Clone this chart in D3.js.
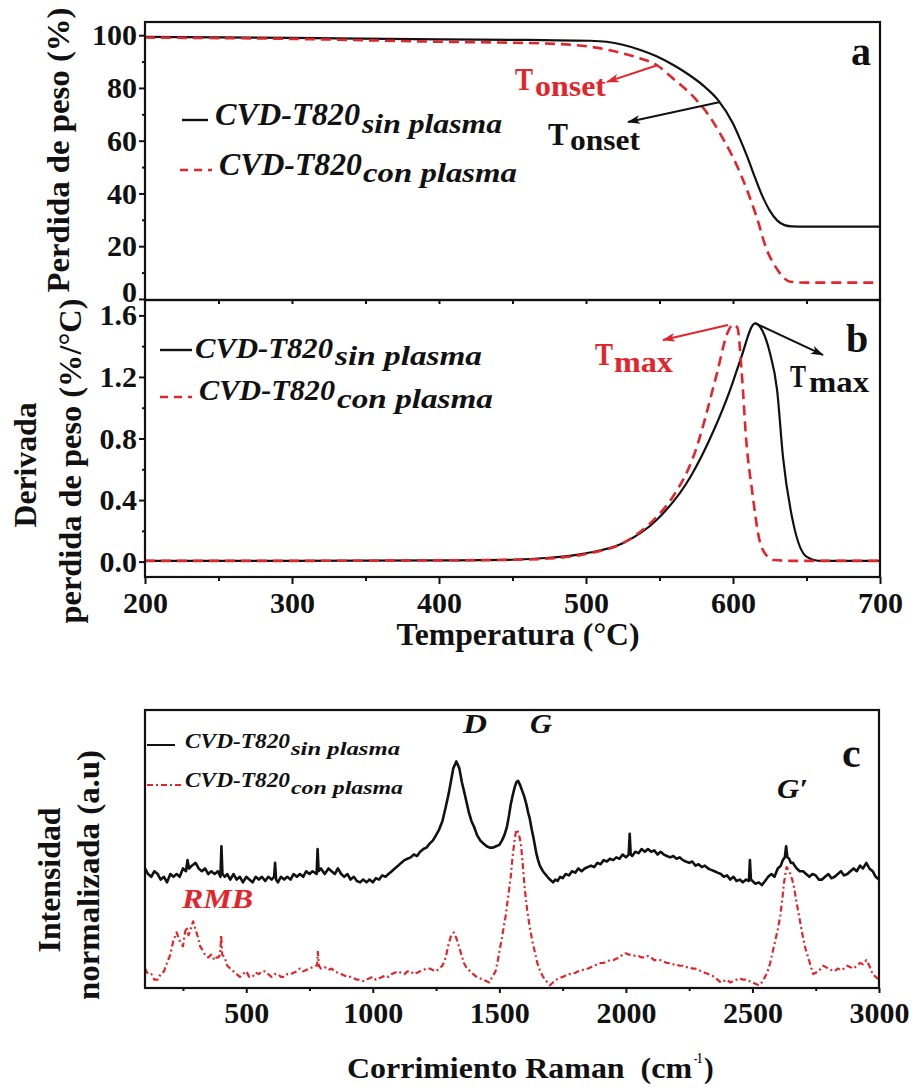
<!DOCTYPE html>
<html><head><meta charset="utf-8">
<script src="https://cdn.jsdelivr.net/npm/d3@7"></script>
<style>
html,body{margin:0;padding:0;background:#fff;}
svg text{white-space:pre;font-family:"Liberation Serif","Times New Roman",Times,serif;font-weight:bold;}
</style></head><body>
<svg id="chart" width="915" height="1089"></svg>
<script>
// ---------------- DATA ----------------
// Panel a: TGA weight (%) vs temperature (°C)
const tgaSinT = [200, 300, 401, 460, 503, 514, 537, 548, 560, 570, 580, 590, 600, 605, 610, 615, 620, 625, 630, 635, 640, 650, 700];
const tgaSinW = [99.4, 99.0, 98.4, 98.2, 97.9, 97.5, 94.4, 92.0, 88.5, 85.0, 80.8, 75.3, 66.5, 60.3, 53.5, 46.0, 39.0, 33.5, 29.8, 28.0, 27.5, 27.4, 27.4];
const tgaConT = [200, 300, 401, 469, 503, 525, 537, 548, 559, 573, 582, 593, 605, 616, 623, 628, 632, 639, 650, 700];
const tgaConW = [99.1, 98.6, 97.5, 96.9, 95.6, 93.1, 91.2, 88.7, 83.7, 76.7, 70.8, 61.0, 47.6, 31.2, 18.6, 13.0, 9.7, 6.5, 6.2, 6.2];
// Panel b: DTG (%/°C)
const dtgSinT = [200, 300, 400, 450, 475, 500, 525, 548, 571, 587, 598, 605, 615, 620, 625, 630, 634, 641, 650, 659, 700];
const dtgSinV = [0.005, 0.005, 0.008, 0.012, 0.025, 0.054, 0.119, 0.27, 0.55, 0.855, 1.115, 1.31, 1.548, 1.50, 1.36, 1.115, 0.68, 0.25, 0.032, 0.005, 0.005];
const dtgConT = [200, 300, 400, 450, 475, 500, 525, 548, 559, 573, 589, 596, 600, 603, 606, 609, 613, 618, 622, 628, 640, 700];
const dtgConV = [0.005, 0.005, 0.008, 0.012, 0.02, 0.05, 0.12, 0.29, 0.42, 0.68, 1.22, 1.48, 1.54, 1.52, 1.22, 0.79, 0.46, 0.14, 0.05, 0.01, 0.005, 0.005];
// Panel c: Raman spectra [shift cm-1, normalized intensity]
const ramanSin = [[100,0.43],[112,0.41],[125,0.40],[137,0.42],[150,0.41],[162,0.39],[175,0.40],[187,0.38],[200,0.41],[212,0.40],[225,0.41],[237,0.40],[250,0.43],[262,0.42],[268,0.46],[274,0.43],[285,0.44],[300,0.45],[312,0.43],[325,0.42],[337,0.43],[350,0.41],[362,0.42],[375,0.41],[388,0.42],[398,0.40],[402,0.51],[406,0.41],[415,0.40],[425,0.41],[437,0.39],[450,0.41],[462,0.39],[475,0.40],[487,0.38],[500,0.40],[512,0.39],[525,0.38],[537,0.40],[550,0.39],[562,0.40],[575,0.385],[587,0.40],[600,0.39],[610,0.40],[614,0.45],[618,0.39],[625,0.38],[637,0.40],[650,0.39],[662,0.40],[675,0.39],[687,0.41],[700,0.40],[712,0.41],[725,0.40],[737,0.42],[750,0.41],[762,0.42],[778,0.41],[782,0.50],[786,0.42],[795,0.43],[810,0.41],[825,0.43],[837,0.42],[850,0.41],[862,0.43],[875,0.41],[887,0.40],[900,0.41],[912,0.39],[925,0.40],[937,0.385],[950,0.38],[962,0.39],[975,0.38],[987,0.39],[1000,0.38],[1012,0.395],[1025,0.39],[1037,0.405],[1050,0.40],[1062,0.41],[1075,0.42],[1087,0.43],[1100,0.44],[1112,0.45],[1125,0.46],[1137,0.465],[1150,0.47],[1162,0.48],[1175,0.475],[1187,0.49],[1200,0.50],[1212,0.505],[1225,0.52],[1237,0.53],[1250,0.55],[1262,0.57],[1275,0.60],[1288,0.65],[1300,0.70],[1310,0.75],[1318,0.79],[1330,0.815],[1342,0.79],[1352,0.74],[1360,0.71],[1370,0.67],[1380,0.63],[1390,0.60],[1400,0.58],[1412,0.55],[1425,0.53],[1437,0.52],[1450,0.51],[1462,0.505],[1475,0.505],[1487,0.51],[1500,0.515],[1510,0.53],[1520,0.55],[1530,0.58],[1538,0.62],[1545,0.66],[1552,0.69],[1560,0.72],[1567,0.74],[1574,0.745],[1582,0.73],[1590,0.71],[1598,0.69],[1607,0.66],[1614,0.63],[1620,0.61],[1628,0.57],[1635,0.54],[1641,0.51],[1646,0.485],[1653,0.46],[1660,0.44],[1666,0.43],[1672,0.42],[1681,0.41],[1690,0.40],[1700,0.39],[1712,0.38],[1721,0.39],[1730,0.385],[1740,0.40],[1750,0.395],[1762,0.41],[1775,0.405],[1787,0.42],[1800,0.415],[1812,0.43],[1825,0.42],[1837,0.43],[1850,0.435],[1862,0.44],[1875,0.435],[1887,0.45],[1900,0.445],[1912,0.46],[1925,0.455],[1937,0.465],[1950,0.46],[1962,0.47],[1975,0.465],[1987,0.48],[2000,0.47],[2011,0.48],[2015,0.555],[2019,0.48],[2025,0.475],[2037,0.49],[2050,0.485],[2062,0.50],[2075,0.49],[2087,0.50],[2100,0.49],[2112,0.495],[2125,0.48],[2137,0.49],[2150,0.48],[2162,0.475],[2175,0.47],[2187,0.475],[2200,0.465],[2212,0.47],[2225,0.46],[2237,0.455],[2250,0.45],[2262,0.455],[2275,0.44],[2287,0.445],[2300,0.435],[2312,0.44],[2325,0.43],[2337,0.425],[2350,0.42],[2362,0.415],[2375,0.41],[2387,0.40],[2400,0.405],[2412,0.39],[2425,0.40],[2437,0.385],[2450,0.39],[2462,0.38],[2475,0.39],[2486,0.385],[2490,0.46],[2494,0.39],[2500,0.385],[2512,0.375],[2525,0.38],[2537,0.37],[2550,0.385],[2562,0.40],[2575,0.41],[2587,0.40],[2600,0.43],[2612,0.44],[2620,0.46],[2628,0.47],[2633,0.51],[2638,0.47],[2645,0.465],[2652,0.45],[2660,0.45],[2667,0.44],[2675,0.43],[2687,0.42],[2700,0.42],[2712,0.41],[2725,0.40],[2737,0.41],[2750,0.405],[2762,0.39],[2775,0.39],[2787,0.40],[2800,0.41],[2812,0.395],[2825,0.40],[2837,0.41],[2850,0.42],[2862,0.405],[2875,0.41],[2887,0.42],[2900,0.43],[2912,0.42],[2925,0.44],[2937,0.43],[2950,0.45],[2962,0.43],[2975,0.42],[2987,0.40],[3000,0.39]];
const ramanCon = [[100,0.07],[112,0.05],[125,0.05],[137,0.03],[150,0.03],[162,0.05],[175,0.06],[187,0.09],[200,0.12],[212,0.17],[225,0.20],[237,0.17],[250,0.15],[258,0.20],[265,0.22],[272,0.19],[280,0.21],[290,0.24],[300,0.21],[310,0.18],[318,0.15],[325,0.14],[337,0.12],[350,0.11],[362,0.12],[375,0.10],[383,0.11],[390,0.11],[397,0.12],[401,0.19],[405,0.12],[415,0.11],[425,0.08],[437,0.07],[450,0.06],[462,0.05],[475,0.04],[487,0.05],[500,0.06],[512,0.04],[525,0.04],[537,0.055],[550,0.05],[562,0.06],[575,0.06],[587,0.05],[600,0.04],[612,0.05],[625,0.05],[637,0.04],[650,0.04],[662,0.05],[675,0.05],[687,0.055],[700,0.06],[712,0.07],[725,0.06],[737,0.065],[750,0.07],[762,0.075],[775,0.08],[780,0.08],[783,0.13],[787,0.08],[795,0.07],[810,0.075],[825,0.065],[837,0.07],[850,0.06],[862,0.055],[875,0.05],[887,0.045],[900,0.04],[912,0.04],[925,0.035],[937,0.03],[950,0.03],[962,0.025],[975,0.03],[987,0.035],[1000,0.04],[1012,0.03],[1025,0.035],[1037,0.04],[1050,0.045],[1062,0.04],[1075,0.05],[1087,0.055],[1100,0.06],[1112,0.055],[1125,0.05],[1137,0.06],[1150,0.06],[1162,0.05],[1175,0.055],[1187,0.06],[1200,0.065],[1212,0.07],[1225,0.07],[1237,0.065],[1250,0.06],[1262,0.07],[1275,0.08],[1288,0.11],[1300,0.16],[1310,0.19],[1320,0.20],[1330,0.18],[1340,0.15],[1350,0.12],[1360,0.09],[1372,0.07],[1385,0.06],[1397,0.05],[1410,0.04],[1422,0.035],[1435,0.03],[1448,0.025],[1460,0.02],[1472,0.04],[1485,0.06],[1492,0.09],[1500,0.13],[1512,0.19],[1525,0.26],[1535,0.33],[1545,0.40],[1552,0.47],[1560,0.53],[1565,0.56],[1570,0.57],[1578,0.55],[1585,0.52],[1592,0.45],[1600,0.36],[1610,0.28],[1620,0.22],[1630,0.17],[1640,0.13],[1650,0.09],[1660,0.065],[1670,0.045],[1680,0.03],[1690,0.02],[1700,0.01],[1712,0.02],[1725,0.03],[1737,0.035],[1750,0.04],[1762,0.045],[1775,0.05],[1787,0.05],[1800,0.055],[1812,0.06],[1825,0.065],[1837,0.065],[1850,0.07],[1862,0.075],[1875,0.08],[1887,0.085],[1900,0.09],[1912,0.09],[1925,0.095],[1937,0.10],[1950,0.10],[1962,0.105],[1975,0.11],[1987,0.12],[2000,0.125],[2012,0.12],[2025,0.12],[2037,0.115],[2050,0.115],[2062,0.11],[2075,0.11],[2087,0.115],[2100,0.11],[2112,0.10],[2125,0.10],[2137,0.10],[2150,0.095],[2162,0.09],[2175,0.09],[2187,0.085],[2200,0.085],[2212,0.08],[2225,0.08],[2237,0.075],[2250,0.075],[2262,0.07],[2275,0.07],[2287,0.065],[2300,0.06],[2312,0.055],[2325,0.05],[2337,0.045],[2350,0.04],[2362,0.03],[2375,0.02],[2387,0.025],[2400,0.03],[2412,0.02],[2425,0.025],[2437,0.03],[2450,0.035],[2462,0.03],[2475,0.03],[2487,0.025],[2500,0.02],[2512,0.015],[2525,0.01],[2537,0.02],[2550,0.04],[2560,0.06],[2570,0.09],[2580,0.13],[2590,0.17],[2600,0.21],[2610,0.26],[2618,0.32],[2625,0.38],[2630,0.41],[2635,0.435],[2642,0.425],[2650,0.41],[2657,0.39],[2665,0.36],[2672,0.32],[2680,0.28],[2690,0.23],[2700,0.18],[2710,0.14],[2720,0.11],[2730,0.08],[2740,0.05],[2750,0.055],[2760,0.06],[2770,0.07],[2780,0.08],[2790,0.075],[2800,0.07],[2812,0.065],[2825,0.06],[2837,0.07],[2850,0.065],[2862,0.07],[2875,0.08],[2887,0.075],[2900,0.07],[2912,0.08],[2925,0.09],[2937,0.085],[2950,0.10],[2962,0.08],[2975,0.05],[2987,0.04],[3000,0.03]];
// Tick values
const tempTicks = [200, 300, 400, 500, 600, 700];
const tempMinor = [250, 350, 450, 550, 650];
const tempTopTicks = [250, 300, 350, 400, 450, 500, 550, 600, 650];
const wtTicks = [0, 20, 40, 60, 80, 100];
const wtMinor = [10, 30, 50, 70, 90];
const dtgTicks = [0.0, 0.4, 0.8, 1.2, 1.6];
const dtgMinor = [0.2, 0.6, 1.0, 1.4];
const ramanTicks = [500, 1000, 1500, 2000, 2500, 3000];
const ramanMinor = [250, 750, 1250, 1750, 2250, 2750];
// Texts
const seriesMain = "CVD-T820";
const seriesSubs = ["sin plasma", "con plasma"];

// ---------------- LAYOUT ----------------
const RED = "#e3252b", INK = "#111";
const X0 = 145, X1 = 880;
const svg = d3.select("#chart");

const xT = d3.scaleLinear().domain([200, 700]).range([X0, X1]);
const yA = d3.scaleLinear().domain([-0.4, 105]).range([300, 22]);
const yB = d3.scaleLinear().domain([-0.1, 1.7]).range([577, 300]);
const xR = d3.scaleLinear().domain([100, 3000]).range([X0, 879]);
const yC = d3.scaleLinear().domain([0, 1]).range([988, 710]);

const defs = svg.append("defs");
[["arrRed", RED], ["arrBlk", INK]].forEach(([id, c]) => {
  defs.append("marker").attr("id", id).attr("viewBox", "0 0 12 8")
    .attr("refX", 11).attr("refY", 4).attr("markerWidth", 13).attr("markerHeight", 9)
    .attr("markerUnits", "userSpaceOnUse").attr("orient", "auto")
    .append("path").attr("d", "M0,0 L12,4 L0,8 L3,4 z").attr("fill", c);
});

function txt(g, x, y, s, o = {}) {
  const t = g.append("text").attr("x", x).attr("y", y).text(s)
    .style("font-size", (o.size || 28) + "px").attr("fill", o.fill || INK);
  if (o.italic) t.style("font-style", "italic");
  if (o.anchor) t.attr("text-anchor", o.anchor);
  if (o.len) t.attr("textLength", o.len).attr("lengthAdjust", "spacingAndGlyphs");
  if (o.rotate) t.attr("transform", `rotate(-90,${x},${y})`);
  return t;
}
function styleAxis(g, size) {
  g.select(".domain").remove();
  g.attr("font-family", null).attr("font-size", null);
  g.selectAll(".tick line").attr("stroke", INK).attr("stroke-width", 2);
  g.selectAll(".tick text").style("font-size", (size || 30) + "px").attr("fill", INK);
}
function frame(x0, y0, x1, y1) {
  svg.append("rect").attr("x", x0).attr("y", y0).attr("width", x1 - x0).attr("height", y1 - y0)
    .attr("fill", "none").attr("stroke", INK).attr("stroke-width", 2.2);
}
function curve(pts, xs2, ys2, color, dash, w, smooth) {
  const line = d3.line().x(d => xs2(d[0])).y(d => ys2(d[1]))
    .curve(smooth ? d3.curveMonotoneX : d3.curveLinear);
  const p = svg.append("path").attr("d", line(pts)).attr("fill", "none")
    .attr("stroke", color).attr("stroke-width", w).attr("stroke-linejoin", "round");
  if (dash) p.attr("stroke-dasharray", dash);
}
const zip = (a, b) => a.map((x, i) => [x, b[i]]);
function legendRow(x0, x1, yLine, tx, tBase, mainLen, subX, subBase, subLen, sub, color, dash, mainSize, subSize, lw) {
  const l = svg.append("line").attr("x1", x0).attr("x2", x1).attr("y1", yLine).attr("y2", yLine)
    .attr("stroke", color).attr("stroke-width", lw);
  if (dash) l.attr("stroke-dasharray", dash);
  txt(svg, tx, tBase, seriesMain, {size: mainSize, italic: true, len: mainLen});
  txt(svg, subX, subBase, sub, {size: subSize, italic: true, len: subLen});
}
function annotate(a, ys) {
  svg.append("line").attr("x1", xT(a.from[0])).attr("y1", ys(a.from[1]))
    .attr("x2", xT(a.to[0])).attr("y2", ys(a.to[1])).attr("stroke", a.color).attr("stroke-width", 2)
    .attr("marker-end", `url(#${a.marker})`);
  txt(svg, xT(a.T), ys(a.v), "T", {size: 31, fill: a.color, len: a.tLen});
  txt(svg, xT(a.T) + a.dx, ys(a.v) + a.dy, a.sub, {size: 30, fill: a.color, len: a.subLen});
}

// ---------------- PANEL A ----------------
curve(zip(tgaSinT, tgaSinW), xT, yA, INK, null, 2.2, true);
curve(zip(tgaConT, tgaConW), xT, yA, RED, "10,6", 2.6, true);
frame(X0, 22, X1, 300);
let g = svg.append("g").attr("transform", `translate(${X0},0)`)
  .call(d3.axisLeft(yA).tickValues(wtTicks).tickSize(6).tickPadding(2).tickFormat(d3.format("d")));
styleAxis(g);
g.selectAll(".tick text").filter(d => d === 0).attr("dy", "0.07em");
g = svg.append("g").attr("transform", `translate(${X0},0)`)
  .call(d3.axisLeft(yA).tickValues(wtMinor).tickSize(3).tickFormat(""));
styleAxis(g);
g = svg.append("g").attr("transform", `translate(0,300)`)
  .call(d3.axisBottom(xT).tickValues(tempTopTicks).tickSize(4).tickFormat(""));
styleAxis(g);
txt(svg, 69, 150, "Perdida de peso (%)", {size: 32, anchor: "middle", rotate: true, len: 285});
txt(svg, 851, 65, "a", {size: 40});
legendRow(182, 208, 120, 215, 125, 145, 362, 133, 140, seriesSubs[0], INK, null, 31, 28, 2.4);
legendRow(180, 212, 170, 219, 175, 143, 363, 182, 154, seriesSubs[1], RED, "8,6", 31, 28, 2.6);

// annotations panel a (data coordinates)
const annoA = [
  {T: 451.7, v: 79.2, tLen: 18, dx: 20, dy: 6, subLen: 71, sub: "onset", color: RED, from: [549.0, 88.7], to: [514.3, 82.3], marker: "arrRed"},
  {T: 474.1, v: 58.4, tLen: 20, dx: 22, dy: 5, subLen: 70, sub: "onset", color: INK, from: [591.2, 74.7], to: [528.6, 67.1], marker: "arrBlk"}
];
annoA.forEach(a => annotate(a, yA));

// ---------------- PANEL B ----------------
curve(zip(dtgSinT, dtgSinV), xT, yB, INK, null, 2.2, true);
curve(zip(dtgConT, dtgConV), xT, yB, RED, "10,6", 2.6, true);
frame(X0, 300, X1, 577);
g = svg.append("g").attr("transform", `translate(${X0},0)`)
  .call(d3.axisLeft(yB).tickValues(dtgTicks).tickSize(6).tickPadding(2).tickFormat(d3.format(".1f")));
styleAxis(g);
g = svg.append("g").attr("transform", `translate(${X0},0)`)
  .call(d3.axisLeft(yB).tickValues(dtgMinor).tickSize(3).tickFormat(""));
styleAxis(g);
g = svg.append("g").attr("transform", `translate(0,577)`)
  .call(d3.axisBottom(xT).tickValues(tempTicks).tickSize(7).tickPadding(8).tickFormat(d3.format("d")));
styleAxis(g);
g = svg.append("g").attr("transform", `translate(0,577)`)
  .call(d3.axisBottom(xT).tickValues(tempMinor).tickSize(4).tickFormat(""));
styleAxis(g);
txt(svg, 36, 465, "Derivada", {size: 32, anchor: "middle", rotate: true, len: 125});
txt(svg, 81, 461, "perdida de peso (%/°C)", {size: 32, anchor: "middle", rotate: true, len: 325});
txt(svg, 518, 645, "Temperatura (°C)", {size: 32, anchor: "middle", len: 243});
txt(svg, 846, 352, "b", {size: 40});
legendRow(160, 192, 350, 195, 358, 138, 335, 365, 147, seriesSubs[0], INK, null, 30, 28, 2.4);
legendRow(160, 192, 397, 199, 400, 136, 337, 408, 156, seriesSubs[1], RED, "8,6", 30, 28, 2.6);

const annoB = [
  {T: 506.1, v: 1.278, tLen: 18, dx: 19, dy: 7, subLen: 59, sub: "max", color: RED, from: [596.6, 1.537], to: [552.4, 1.44], marker: "arrRed"},
  {T: 638.8, v: 1.135, tLen: 16, dx: 19, dy: 5, subLen: 60, sub: "max", color: INK, from: [615.0, 1.55], to: [661.2, 1.343], marker: "arrBlk"}
];
annoB.forEach(a => annotate(a, yB));

// ---------------- PANEL C ----------------
curve(ramanCon, xR, yC, RED, "6,3,2,3", 2.2, false);
curve(ramanSin, xR, yC, INK, null, 2.6, false);
frame(X0, 710, 879, 988);
g = svg.append("g").attr("transform", `translate(0,988)`)
  .call(d3.axisBottom(xR).tickValues(ramanTicks).tickSize(5).tickPadding(9).tickFormat(d3.format("d")));
styleAxis(g);
g = svg.append("g").attr("transform", `translate(0,988)`)
  .call(d3.axisBottom(xR).tickValues(ramanMinor).tickSize(3).tickFormat(""));
styleAxis(g);
txt(svg, 60, 880, "Intensidad", {size: 32, anchor: "middle", rotate: true, len: 145});
txt(svg, 99, 875, "normalizada (a.u)", {size: 32, anchor: "middle", rotate: true, len: 250});
txt(svg, 347, 1078, "Corrimiento Raman  (cm", {size: 29, len: 345});
txt(svg, 694, 1063, "-1", {size: 14, len: 8});
txt(svg, 704, 1078, ")", {size: 29});
txt(svg, 842, 767, "c", {size: 42});
legendRow(147, 175, 745, 185, 748, 105, 291, 755, 109, seriesSubs[0], INK, null, 20, 18, 2);
legendRow(147, 182, 785, 185, 787, 105, 291, 794, 112, seriesSubs[1], RED, "6,3,2,3", 20, 18, 2);

const peakLabels = [
  {x: 1356, v: 0.917, s: "D", color: INK, len: 24},
  {x: 1621, v: 0.917, s: "G", color: INK, len: 22},
  {x: 2597, v: 0.683, s: "G′", color: INK, len: 31},
  {x: 246, v: 0.288, s: "RMB", color: RED, len: 71}
];
peakLabels.forEach(p => txt(svg, xR(p.x), yC(p.v), p.s, {size: 27, italic: true, fill: p.color, len: p.len}));
</script>
</body></html>
